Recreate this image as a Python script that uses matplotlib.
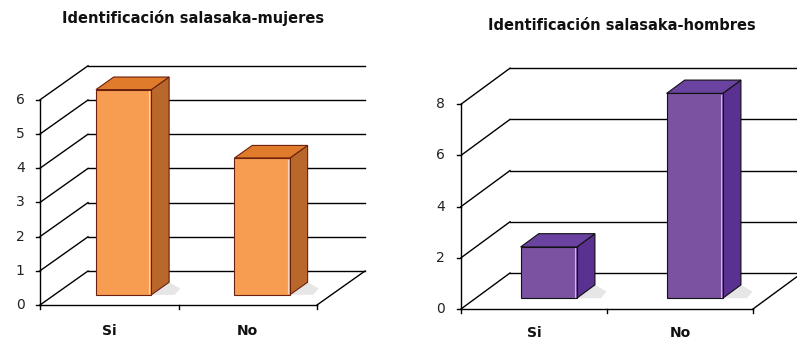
import matplotlib.pyplot as plt
from matplotlib.patches import Polygon

plt.rcParams['font.family'] = ['DejaVu Sans']

# data
categories = ['Si', 'No']
mujeres = [6, 4]
hombres = [2, 8]
titles = ['Identificación salasaka-mujeres', 'Identificación salasaka-hombres']


def draw_3d_bars(ax, vals, ticks, ddx, ddy, colors, edge, title, title_xy, label_y, bw):
    ymax = ticks[-1]
    grid = 'black'
    n = len(vals)
    # back wall gridlines + diagonals
    for t in ticks:
        ax.plot([0, ddx], [t, t + ddy], color=grid, lw=1.0, zorder=1)
        ax.plot([ddx, n + ddx], [t + ddy, t + ddy], color=grid, lw=1.0, zorder=1)
        ax.plot([-0.03, 0], [t, t], color=grid, lw=1.0)
        ax.text(-0.11, t, str(t), ha='right', va='center', fontsize=10, color='#222222')
    # floor / axes
    ax.plot([0, 0], [0, ymax], color=grid, lw=1.0, zorder=1)
    ax.plot([0, n], [0, 0], color=grid, lw=1.0, zorder=1)
    ax.plot([n, n + ddx], [0, ddy], color=grid, lw=1.0, zorder=1)
    for i in range(n + 1):
        ax.plot([i, i], [0, -0.12 * ddy], color=grid, lw=1.0)

    z0 = 0.3
    dz = 0.37
    front, side, top = colors
    for i, v in enumerate(vals):
        x0 = i + 0.5 - bw / 2 + z0 * ddx
        x1 = x0 + bw
        y0 = z0 * ddy
        y1 = y0 + v
        sx, sy = dz * ddx, dz * ddy
        # faint shadow
        ax.add_patch(Polygon([(x1, y0), (x1 + sx + 0.04, y0), (x1 + sx + 0.08, y0 + sy * 0.5),
                              (x1 + sx, y0 + sy)], closed=True, fc='#e6e6e6', ec='none', zorder=2))
        ax.add_patch(Polygon([(x1, y0), (x1 + sx, y0 + sy), (x1 + sx, y1 + sy), (x1, y1)],
                             closed=True, fc=side, ec=edge, lw=0.8, zorder=3))
        ax.add_patch(Polygon([(x0, y1), (x1, y1), (x1 + sx, y1 + sy), (x0 + sx, y1 + sy)],
                             closed=True, fc=top, ec=edge, lw=0.8, zorder=3))
        ax.add_patch(Polygon([(x0, y0), (x1, y0), (x1, y1), (x0, y1)],
                             closed=True, fc=front, ec=edge, lw=0.8, zorder=4))
        ax.plot([x1 - 0.015, x1 - 0.015], [y0 + 0.05, y1 - 0.05], color='white', lw=0.8,
                alpha=0.6, zorder=5)
        ax.text(i + 0.5, label_y, categories[i], ha='center', va='center',
                fontsize=10, fontweight='bold', color='#111111')
    ax.text(title_xy[0], title_xy[1], title, ha='center', va='center',
            fontsize=10.5, fontweight='bold', color='#111111')
    ax.axis('off')


fig = plt.figure(figsize=(7.97, 3.40), dpi=100)

# left chart: pixel mapping x0=40 px, 138.5 px/category; y0=305 px, 34.2 px/unit
ax1 = fig.add_axes([0, 0, 400 / 797, 1])
ax1.set_xlim((0 - 40) / 138.5, (400 - 40) / 138.5)
ax1.set_ylim(-(340 - 305) / 34.2, 305 / 34.2)
draw_3d_bars(ax1, mujeres, [0, 1, 2, 3, 4, 5, 6], 48 / 138.5, 34 / 34.2,
             ('#F79D52', '#B9672B', '#E07B2B'), '#6b1f0f', titles[0],
             ((193 - 40) / 138.5, (305 - 18) / 34.2), -26 / 34.2, 0.40)

# right chart: x0=461 px, 146 px/category; y0=309 px, 25.6 px/unit
ax2 = fig.add_axes([400 / 797, 0, 397 / 797, 1])
ax2.set_xlim((400 - 461) / 146, (797 - 461) / 146)
ax2.set_ylim(-(340 - 309) / 25.6, 309 / 25.6)
draw_3d_bars(ax2, hombres, [0, 2, 4, 6, 8], 49 / 146, 36 / 25.6,
             ('#7A52A1', '#5A3090', '#6A42A0'), '#111111', titles[1],
             ((622 - 461) / 146, (309 - 25) / 25.6), -24 / 25.6, 0.385)

fig.savefig('out.png', dpi=100)
